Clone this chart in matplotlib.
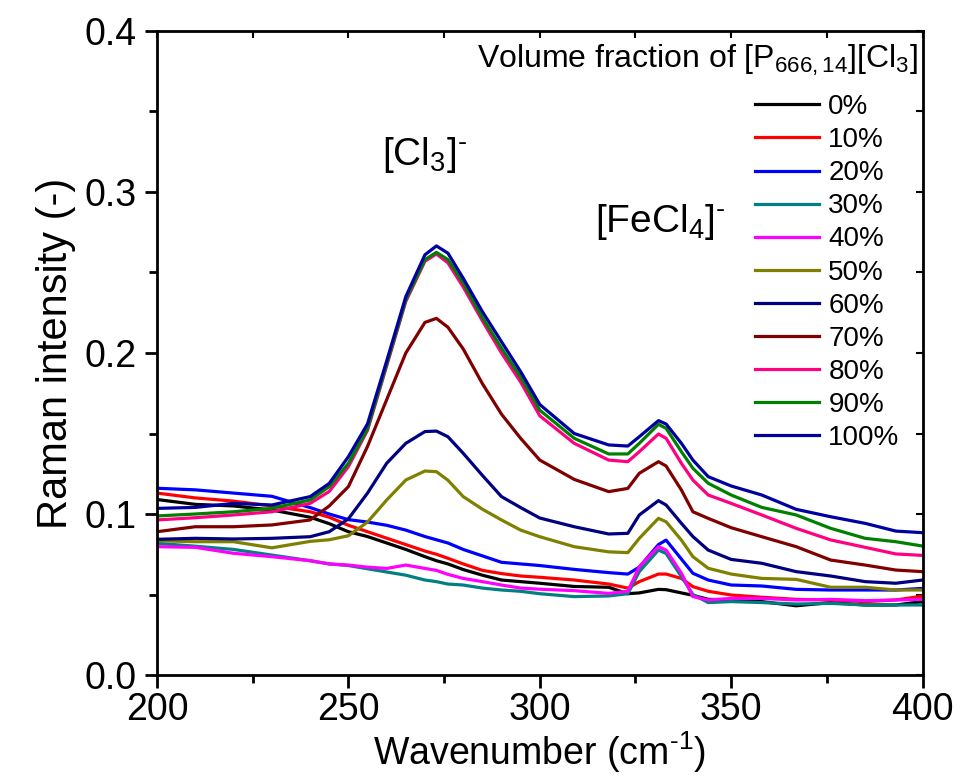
import matplotlib
matplotlib.use("Agg")
import matplotlib.pyplot as plt
from matplotlib.ticker import MultipleLocator

plt.rcParams['font.family'] = ['Liberation Sans', 'DejaVu Sans']
plt.rcParams['mathtext.fontset'] = 'custom'
plt.rcParams['mathtext.rm'] = 'Liberation Sans'
plt.rcParams['mathtext.it'] = 'Liberation Sans:italic'
plt.rcParams['mathtext.bf'] = 'Liberation Sans:bold'

# Raman shift grid (cm-1)
wavenumber = [200, 210, 220, 230, 240, 245, 250, 255, 260, 265, 270, 273, 276, 280,
              285, 290, 295, 300, 309, 318, 323, 326, 331, 333, 337, 340, 344, 350,
              358, 367, 376, 385, 393, 400]

# intensity for each volume fraction of [P666,14][Cl3]
i_0 = [0.109, 0.106, 0.105, 0.1025, 0.098, 0.094, 0.089, 0.086, 0.082, 0.078, 0.0735, 0.071,
       0.069, 0.0655, 0.062, 0.059, 0.058, 0.057, 0.055, 0.0545, 0.0505, 0.051, 0.0532, 0.053,
       0.051, 0.0495, 0.047, 0.0466, 0.0456, 0.043, 0.045, 0.0435, 0.0435, 0.0456]
i_10 = [0.113, 0.110, 0.108, 0.105, 0.1014, 0.098, 0.093, 0.089, 0.085, 0.081, 0.077, 0.075,
        0.0725, 0.069, 0.065, 0.063, 0.0615, 0.0607, 0.059, 0.0565, 0.054, 0.058, 0.0627, 0.0627,
        0.060, 0.0549, 0.052, 0.0497, 0.0483, 0.047, 0.0466, 0.0456, 0.0466, 0.049]
i_20 = [0.116, 0.115, 0.113, 0.111, 0.104, 0.100, 0.0965, 0.095, 0.093, 0.090, 0.086, 0.084,
        0.082, 0.078, 0.074, 0.070, 0.069, 0.068, 0.0656, 0.0636, 0.0627, 0.067, 0.081, 0.0838,
        0.072, 0.0632, 0.059, 0.0559, 0.0553, 0.0532, 0.0528, 0.0528, 0.0528, 0.0538]
i_30 = [0.0818, 0.080, 0.078, 0.0745, 0.071, 0.069, 0.068, 0.066, 0.064, 0.062, 0.059, 0.058,
        0.0565, 0.0559, 0.054, 0.0528, 0.052, 0.0505, 0.0487, 0.0491, 0.0505, 0.0642, 0.0776, 0.0755,
        0.0611, 0.050, 0.045, 0.0456, 0.0450, 0.0441, 0.0445, 0.0435, 0.0435, 0.0435]
i_40 = [0.0797, 0.0793, 0.0756, 0.0735, 0.071, 0.069, 0.0683, 0.067, 0.0662, 0.0683, 0.0662, 0.065,
        0.0625, 0.060, 0.058, 0.0559, 0.054, 0.0533, 0.0524, 0.0507, 0.052, 0.0673, 0.0797, 0.0776,
        0.0632, 0.0487, 0.0466, 0.0476, 0.0476, 0.0466, 0.047, 0.0462, 0.0466, 0.047]
i_50 = [0.0834, 0.0828, 0.0828, 0.079, 0.083, 0.084, 0.0865, 0.095, 0.1087, 0.1211, 0.1267, 0.1263,
        0.121, 0.1108, 0.103, 0.0963, 0.090, 0.0859, 0.0797, 0.0765, 0.076, 0.0849, 0.0973, 0.0952,
        0.0838, 0.0735, 0.0663, 0.0627, 0.060, 0.0594, 0.0545, 0.0545, 0.0528, 0.0528]
i_60 = [0.0843, 0.0849, 0.0845, 0.0849, 0.0859, 0.089, 0.097, 0.113, 0.1315, 0.1439, 0.1512, 0.1515,
        0.148, 0.1377, 0.124, 0.1108, 0.104, 0.0975, 0.0921, 0.0876, 0.088, 0.0994, 0.1083, 0.1056,
        0.0942, 0.086, 0.0776, 0.0718, 0.0694, 0.0642, 0.0615, 0.058, 0.057, 0.059]
i_70 = [0.089, 0.0921, 0.0921, 0.0932, 0.0963, 0.105, 0.117, 0.142, 0.171, 0.200, 0.219, 0.2215,
        0.216, 0.2025, 0.181, 0.162, 0.147, 0.1335, 0.1215, 0.1139, 0.1159, 0.1253, 0.1325, 0.1298,
        0.1149, 0.1014, 0.0973, 0.0915, 0.0859, 0.0797, 0.0714, 0.0683, 0.0652, 0.0642]
i_80 = [0.0963, 0.0977, 0.0994, 0.1014, 0.1066, 0.114, 0.1294, 0.152, 0.192, 0.232, 0.257, 0.2615,
        0.256, 0.241, 0.220, 0.200, 0.182, 0.161, 0.1439, 0.1335, 0.1325, 0.1387, 0.1497, 0.1470,
        0.1315, 0.1211, 0.1118, 0.1066, 0.0994, 0.0911, 0.0839, 0.0793, 0.0752, 0.0743]
i_90 = [0.0988, 0.100, 0.1014, 0.1035, 0.1087, 0.117, 0.1315, 0.153, 0.193, 0.233, 0.258, 0.2625,
        0.258, 0.2435, 0.222, 0.203, 0.185, 0.1645, 0.147, 0.1373, 0.1373, 0.1439, 0.1557, 0.1532,
        0.1387, 0.1284, 0.1191, 0.1118, 0.1041, 0.0994, 0.0911, 0.0849, 0.0828, 0.0801]
i_100 = [0.1035, 0.1041, 0.1066, 0.1056, 0.1108, 0.119, 0.1356, 0.156, 0.195, 0.235, 0.261, 0.2665,
         0.262, 0.2464, 0.2257, 0.207, 0.1884, 0.168, 0.150, 0.1429, 0.1422, 0.148, 0.158, 0.1559,
         0.1439, 0.1335, 0.1232, 0.1174, 0.1118, 0.1029, 0.0983, 0.0942, 0.0894, 0.0884]

labels = ['0%', '10%', '20%', '30%', '40%', '50%', '60%', '70%', '80%', '90%', '100%']
series = [i_0, i_10, i_20, i_30, i_40, i_50, i_60, i_70, i_80, i_90, i_100]
colors = ['#000000', '#FF0000', '#0000FF', '#008080', '#FF00FF', '#808000',
          '#000080', '#800000', '#FF0080', '#008000', '#0000A0']

fig = plt.figure(figsize=(9.62, 7.84), dpi=100)
ax = fig.add_axes([0.1632, 0.139, 0.7958, 0.8215])

for y, c, lab in zip(series, colors, labels):
    ax.plot(wavenumber, y, color=c, lw=2.3, label=lab)

ax.set_xlim(200, 400)
ax.set_ylim(0, 0.4)
ax.xaxis.set_major_locator(MultipleLocator(50))
ax.xaxis.set_minor_locator(MultipleLocator(25))
ax.yaxis.set_major_locator(MultipleLocator(0.1))
ax.yaxis.set_minor_locator(MultipleLocator(0.05))
ax.tick_params(which='major', direction='out', length=9, width=2, labelsize=27, pad=3)
ax.tick_params(which='minor', direction='out', length=6, width=2)
ax.tick_params(axis='y', which='major', pad=6)
for s in ax.spines.values():
    s.set_linewidth(2)

# inward ticks on the opposite spines
top = ax.secondary_xaxis('top')
top.xaxis.set_major_locator(MultipleLocator(25))
top.tick_params(direction='in', length=5, width=1.5, labeltop=False)
right = ax.secondary_yaxis('right')
right.yaxis.set_major_locator(MultipleLocator(0.05))
right.tick_params(direction='in', length=5, width=1.5, labelright=False)

ax.set_xlabel(r'Wavenumber (cm$^{\text{-}1}$)', fontsize=27, labelpad=1)
ax.set_ylabel('Raman intensity (-)', fontsize=30, labelpad=6)

ax.text(0.35, 0.808, r'[Cl$_3$]$^{\text{-}}$', transform=ax.transAxes, fontsize=28,
        ha='center', va='center')
ax.text(0.657, 0.703, r'[FeCl$_4$]$^{\text{-}}$', transform=ax.transAxes, fontsize=28,
        ha='center', va='center')

ax.text(0.994, 0.955, 'Volume fraction of [P$_{666,14}$][Cl$_3$]', transform=ax.transAxes,
        fontsize=23, ha='right', va='center')
ax.legend(loc='upper right', bbox_to_anchor=(0.97, 0.902), frameon=False, fontsize=20,
          handlelength=2.3, handletextpad=0.35, labelspacing=0.255, borderaxespad=0,
          borderpad=0)

fig.savefig('out.png', dpi=100)
